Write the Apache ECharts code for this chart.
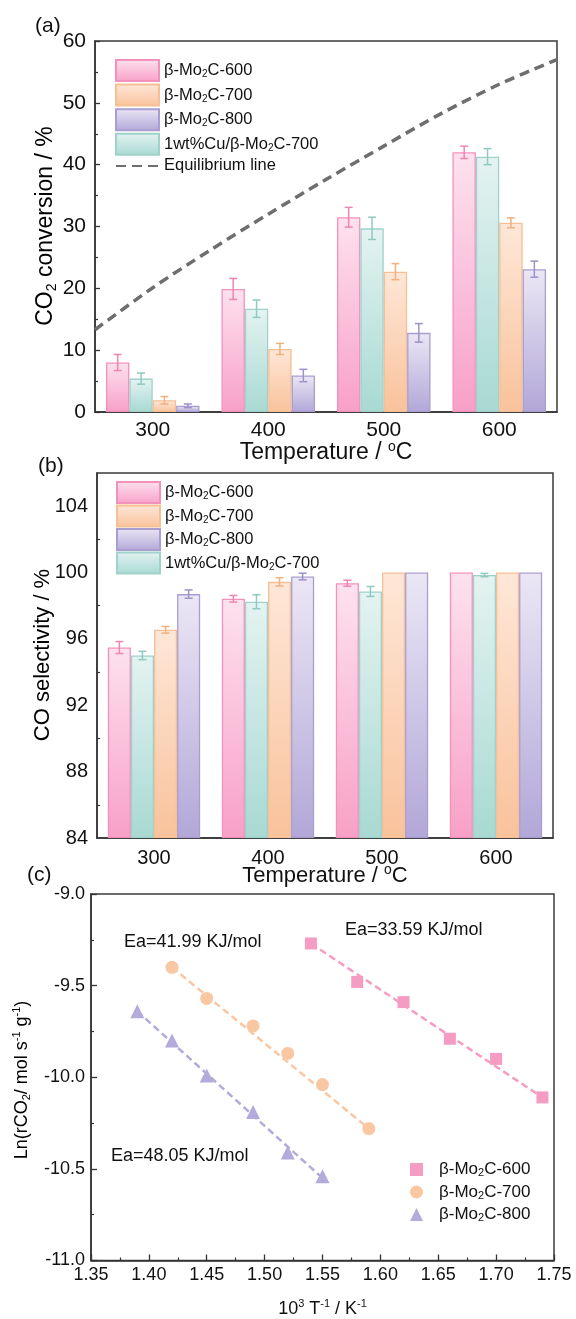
<!DOCTYPE html>
<html>
<head>
<meta charset="utf-8">
<script src="https://cdn.jsdelivr.net/npm/echarts@6/dist/echarts.min.js"></script>
<style>
  html, body { margin: 0; padding: 0; background: #fff; }
  #chart { width: 576px; height: 1319px; }
</style>
</head>
<body>
<div id="chart"></div>
<script>
// ---- data ----
const temps = ['300', '400', '500', '600'];

// (a) CO2 conversion, bar order inside a group: 600, Cu, 700, 800
const conv600 = [8.0, 19.9, 31.5, 42.0];
const conv600Err = [1.3, 1.7, 1.6, 1.0];
const convCu = [5.4, 16.7, 29.7, 41.3];
const convCuErr = [0.9, 1.4, 1.8, 1.3];
const conv700 = [1.9, 10.2, 22.7, 30.6];
const conv700Err = [0.6, 0.9, 1.3, 0.8];
const conv800 = [1.0, 5.9, 12.8, 23.1];
const conv800Err = [0.3, 1.0, 1.5, 1.3];

const eqTemp = [250, 300, 350, 400, 450, 500, 550, 600, 650];
const eqConv = [13.3, 20.1, 26.2, 32.0, 37.6, 43.0, 48.3, 53.0, 57.0];

// (b) CO selectivity
const sel600 = [95.48, 98.42, 99.36, 100];
const sel600Err = [0.36, 0.2, 0.18, 0];
const selCu = [95.0, 98.24, 98.86, 99.85];
const selCuErr = [0.25, 0.42, 0.3, 0.1];
const sel700 = [96.55, 99.44, 100, 100];
const sel700Err = [0.2, 0.25, 0, 0];
const sel800 = [98.7, 99.76, 100, 100];
const sel800Err = [0.25, 0.2, 0, 0];

// (c) Arrhenius plot
const x600 = [1.54, 1.58, 1.62, 1.66, 1.70, 1.74];
const y600 = [-9.27, -9.48, -9.59, -9.79, -9.90, -10.11];
const x700 = [1.42, 1.45, 1.49, 1.52, 1.55, 1.59];
const y700 = [-9.40, -9.57, -9.72, -9.87, -10.04, -10.28];
const x800 = [1.39, 1.42, 1.45, 1.49, 1.52, 1.55];
const y800 = [-9.64, -9.80, -9.99, -10.19, -10.41, -10.54];
const fit600 = [[1.54, -9.27], [1.74, -10.11]];
const fit700 = [[1.42, -9.40], [1.59, -10.28]];
const fit800 = [[1.39, -9.64], [1.55, -10.55]];

const N600 = 'β-Mo2C-600', N700 = 'β-Mo2C-700', N800 = 'β-Mo2C-800', NCU = '1wt%Cu/β-Mo2C-700';

// ---- styles ----
const FONT = "'Liberation Sans', Arial, sans-serif";
const col = {
  p: { top: '#fde2ee', bottom: '#f8a0c7', border: '#f391bd', err: '#ee85b3', dot: '#f59cc3' },
  t: { top: '#e4f3f1', bottom: '#a8d9d2', border: '#9fd2cb', err: '#90c9c1' },
  o: { top: '#fee7d8', bottom: '#f9c29b', border: '#f6bf94', err: '#f1b07f', dot: '#f9c7a1' },
  v: { top: '#ebe7f5', bottom: '#b2a7d8', border: '#aa9ed1', err: '#9e92c8', dot: '#b4aadb' }
};

function rich(size, lh) {
  const s = Math.round(size * 0.62);
  return {
    t: { fontSize: size, fontFamily: FONT, color: '#111', lineHeight: lh || size + 3 },
    sub: { fontSize: s, fontFamily: FONT, color: '#111', lineHeight: s, verticalAlign: 'bottom' },
    sup: { fontSize: s, fontFamily: FONT, color: '#111', lineHeight: Math.round(size * 0.7), verticalAlign: 'top' }
  };
}

function legendText(name) {
  const n = name.replace(/^c:/, '');
  return '{t|' + n.replace('Mo2C', 'Mo}{sub|2}{t|C') + '}';
}

// rotated y-axis title
function yTitle(text, x, y, size) {
  return {
    type: 'text', x: x, y: y, rotation: Math.PI / 2,
    style: { text: text, rich: rich(size), align: 'center', verticalAlign: 'middle' }
  };
}

function bar(name, xi, yi, vals, c) {
  return {
    type: 'bar', name: name, xAxisIndex: xi, yAxisIndex: yi, data: vals,
    barGap: '0%', barCategoryGap: '19%', z: 2,
    itemStyle: {
      color: new echarts.graphic.LinearGradient(0, 0, 0, 1, [
        { offset: 0, color: c.top }, { offset: 1, color: c.bottom }
      ]),
      borderColor: c.border, borderWidth: 1.3
    },
    emphasis: { disabled: true }
  };
}

function errBars(slot, xi, yi, vals, errs, c) {
  return {
    type: 'custom', name: 'err' + xi + slot, xAxisIndex: xi, yAxisIndex: yi, z: 5,
    data: vals.map((v, i) => [i, v, errs[i]]),
    renderItem: function (params, api) {
      const e = api.value(2);
      if (!e) return null;
      const v = api.value(1), i = api.value(0);
      const bw = api.size([1, 0])[0];
      const barW = bw * 0.81 / 4;
      const x = api.coord([i, v])[0] + (slot - 1.5) * barW;
      const top = api.coord([i, v + e])[1];
      const bot = api.coord([i, v - e])[1];
      const st = { stroke: c.err, lineWidth: 1.5 };
      return {
        type: 'group', children: [
          { type: 'line', shape: { x1: x, y1: top, x2: x, y2: bot }, style: st },
          { type: 'line', shape: { x1: x - 4, y1: top, x2: x + 4, y2: top }, style: st },
          { type: 'line', shape: { x1: x - 4, y1: bot, x2: x + 4, y2: bot }, style: st }
        ]
      };
    }
  };
}

const axisLine = { show: true, lineStyle: { color: '#333', width: 1.5 } };
const gridBox = { show: true, borderColor: '#3a3a3a', borderWidth: 1.5, backgroundColor: 'transparent' };
const rectItem = n => ({ name: n, icon: 'rect' });

const option = {
  animation: false,
  textStyle: { fontFamily: FONT },
  grid: [
    Object.assign({ left: 95, top: 41, right: 19, height: 371 }, gridBox),
    Object.assign({ left: 97, top: 473, right: 23, height: 365 }, gridBox),
    Object.assign({ left: 91, top: 894, right: 22, height: 371 }, gridBox)
  ],
  xAxis: [
    {
      type: 'category', gridIndex: 0, data: temps, axisLine: axisLine,
      axisTick: { alignWithLabel: true, length: 5, lineStyle: { color: '#333', width: 1.5 } },
      axisLabel: { fontSize: 21, color: '#111', margin: 8 },
      name: '{t|Temperature / }{sup|o}{t|C}', nameLocation: 'middle', nameGap: 28, nameMoveOverlap: false,
      nameTextStyle: { rich: rich(23) }
    },
    { type: 'value', gridIndex: 0, min: 250, max: 650, show: false },
    {
      type: 'category', gridIndex: 1, data: temps, axisLine: axisLine,
      axisTick: { alignWithLabel: true, length: 5, lineStyle: { color: '#333', width: 1.5 } },
      axisLabel: { fontSize: 20, color: '#111', margin: 10 },
      name: '{t|Temperature / }{sup|o}{t|C}', nameLocation: 'middle', nameGap: 25.5, nameMoveOverlap: false,
      nameTextStyle: { rich: rich(22) }
    },
    {
      type: 'value', gridIndex: 2, min: 1.35, max: 1.75, interval: 0.05, axisLine: axisLine,
      splitLine: { show: false },
      axisTick: { inside: true, length: 6, lineStyle: { color: '#333', width: 1.3 } },
      minorTick: { show: true, splitNumber: 2, length: 3, lineStyle: { color: '#333', width: 1.2 } },
      axisLabel: { fontSize: 18, color: '#111', margin: 6, formatter: v => v.toFixed(2) },
      name: '{t|10}{sup|3}{t| T}{sup|-1}{t| / K}{sup|-1}', nameLocation: 'middle', nameGap: 38, nameMoveOverlap: false,
      nameTextStyle: { rich: rich(18) }
    }
  ],
  yAxis: [
    {
      type: 'value', gridIndex: 0, min: 0, max: 60, interval: 10, axisLine: axisLine,
      splitLine: { show: false },
      axisTick: { inside: true, length: 5, lineStyle: { color: '#333', width: 1.3 } },
      minorTick: { show: true, splitNumber: 2, length: 3, lineStyle: { color: '#333', width: 1.2 } },
      axisLabel: { fontSize: 21, color: '#111', margin: 9 }
    },
    {
      type: 'value', gridIndex: 1, min: 84, max: 106, interval: 4, startValue: 84, axisLine: axisLine,
      splitLine: { show: false },
      axisTick: { inside: true, length: 5, lineStyle: { color: '#333', width: 1.3 } },
      minorTick: { show: true, splitNumber: 2, length: 3, lineStyle: { color: '#333', width: 1.2 } },
      axisLabel: { fontSize: 20, color: '#111', margin: 9, formatter: v => ((v - 84) % 4 === 0 ? String(v) : '') }
    },
    {
      type: 'value', gridIndex: 2, min: -11, max: -9, interval: 0.5, axisLine: axisLine,
      splitLine: { show: false },
      axisTick: { inside: true, length: 6, lineStyle: { color: '#333', width: 1.3 } },
      minorTick: { show: true, splitNumber: 2, length: 3, lineStyle: { color: '#333', width: 1.2 } },
      axisLabel: { fontSize: 18, color: '#111', margin: 6, formatter: v => v.toFixed(1) }
    }
  ],
  legend: [
    {
      data: [rectItem(N600), rectItem(N700), rectItem(N800), rectItem(NCU),
        { name: 'Equilibrium line', itemStyle: { opacity: 0 } }],
      orient: 'vertical', left: 115, top: 59, padding: 0,
      itemWidth: 43, itemHeight: 21, itemGap: 1.6, selectedMode: false,
      formatter: legendText, textStyle: { rich: rich(16.5, 18) }
    },
    {
      data: [rectItem(N600), rectItem(N700), rectItem(N800), rectItem(NCU)],
      orient: 'vertical', left: 116, top: 481, padding: 0,
      itemWidth: 43, itemHeight: 21, itemGap: 0.5, selectedMode: false,
      formatter: legendText, textStyle: { rich: rich(16.5, 18) }
    },
    {
      data: ['c:' + N600, 'c:' + N700, 'c:' + N800], orient: 'vertical', left: 410, top: 1161, padding: 0,
      itemWidth: 13, itemHeight: 13, itemGap: 5, selectedMode: false,
      formatter: legendText, textStyle: { rich: rich(17, 18), padding: [0, 0, 0, 11] }
    }
  ],
  graphic: [
    { type: 'text', left: 35, top: 16, style: { text: '(a)', font: '21px ' + FONT, fill: '#111' } },
    { type: 'text', left: 38, top: 456, style: { text: '(b)', font: '21px ' + FONT, fill: '#111' } },
    { type: 'text', left: 27, top: 865, style: { text: '(c)', font: '21px ' + FONT, fill: '#111' } },
    { type: 'text', left: 345, top: 921, style: { text: 'Ea=33.59 KJ/mol', font: '18px ' + FONT, fill: '#111' } },
    { type: 'text', left: 124, top: 933, style: { text: 'Ea=41.99 KJ/mol', font: '18px ' + FONT, fill: '#111' } },
    { type: 'text', left: 111, top: 1147, style: { text: 'Ea=48.05 KJ/mol', font: '18px ' + FONT, fill: '#111' } },
    yTitle('{t|CO}{sub|2}{t| conversion / %}', 46, 226, 23),
    yTitle('{t|CO selectivity / %}', 43, 655, 22),
    yTitle('{t|Ln(rCO}{sub|2}{t|/ mol s}{sup|-1}{t| g}{sup|-1}{t|)}', 22, 1080, 18)
  ],
  series: [
    // (a)
    bar(N600, 0, 0, conv600, col.p),
    bar(NCU, 0, 0, convCu, col.t),
    bar(N700, 0, 0, conv700, col.o),
    bar(N800, 0, 0, conv800, col.v),
    errBars(0, 0, 0, conv600, conv600Err, col.p),
    errBars(1, 0, 0, convCu, convCuErr, col.t),
    errBars(2, 0, 0, conv700, conv700Err, col.o),
    errBars(3, 0, 0, conv800, conv800Err, col.v),
    {
      type: 'line', name: 'Equilibrium line', xAxisIndex: 1, yAxisIndex: 0, smooth: 0.3, symbol: 'none', z: 4,
      data: eqTemp.map((t, i) => [t, eqConv[i]]),
      itemStyle: { color: '#6e6e6e' },
      lineStyle: { color: '#6e6e6e', width: 3.5, type: [10, 6] }
    },
    // (b)
    bar(N600, 2, 1, sel600, col.p),
    bar(NCU, 2, 1, selCu, col.t),
    bar(N700, 2, 1, sel700, col.o),
    bar(N800, 2, 1, sel800, col.v),
    errBars(0, 2, 1, sel600, sel600Err, col.p),
    errBars(1, 2, 1, selCu, selCuErr, col.t),
    errBars(2, 2, 1, sel700, sel700Err, col.o),
    errBars(3, 2, 1, sel800, sel800Err, col.v),
    // (c)
    { type: 'line', name: 'fit600', xAxisIndex: 3, yAxisIndex: 2, data: fit600, symbol: 'none',
      lineStyle: { color: col.p.dot, width: 2.5, type: [7, 4] }, z: 2 },
    { type: 'line', name: 'fit700', xAxisIndex: 3, yAxisIndex: 2, data: fit700, symbol: 'none',
      lineStyle: { color: col.o.dot, width: 2.5, type: [7, 4] }, z: 2 },
    { type: 'line', name: 'fit800', xAxisIndex: 3, yAxisIndex: 2, data: fit800, symbol: 'none',
      lineStyle: { color: col.v.dot, width: 2.5, type: [7, 4] }, z: 2 },
    { type: 'scatter', name: 'c:' + N600, xAxisIndex: 3, yAxisIndex: 2, symbol: 'rect', symbolSize: 12,
      data: x600.map((x, i) => [x, y600[i]]), itemStyle: { color: col.p.dot, opacity: 1 }, z: 3 },
    { type: 'scatter', name: 'c:' + N700, xAxisIndex: 3, yAxisIndex: 2, symbol: 'circle', symbolSize: 13,
      data: x700.map((x, i) => [x, y700[i]]), itemStyle: { color: col.o.dot, opacity: 1 }, z: 3 },
    { type: 'scatter', name: 'c:' + N800, xAxisIndex: 3, yAxisIndex: 2, symbol: 'triangle', symbolSize: 14,
      data: x800.map((x, i) => [x, y800[i]]), itemStyle: { color: col.v.dot, opacity: 1 }, z: 3 }
  ]
};

const chart = echarts.init(document.getElementById('chart'), null, { renderer: 'canvas' });
chart.setOption(option);
</script>
</body>
</html>
